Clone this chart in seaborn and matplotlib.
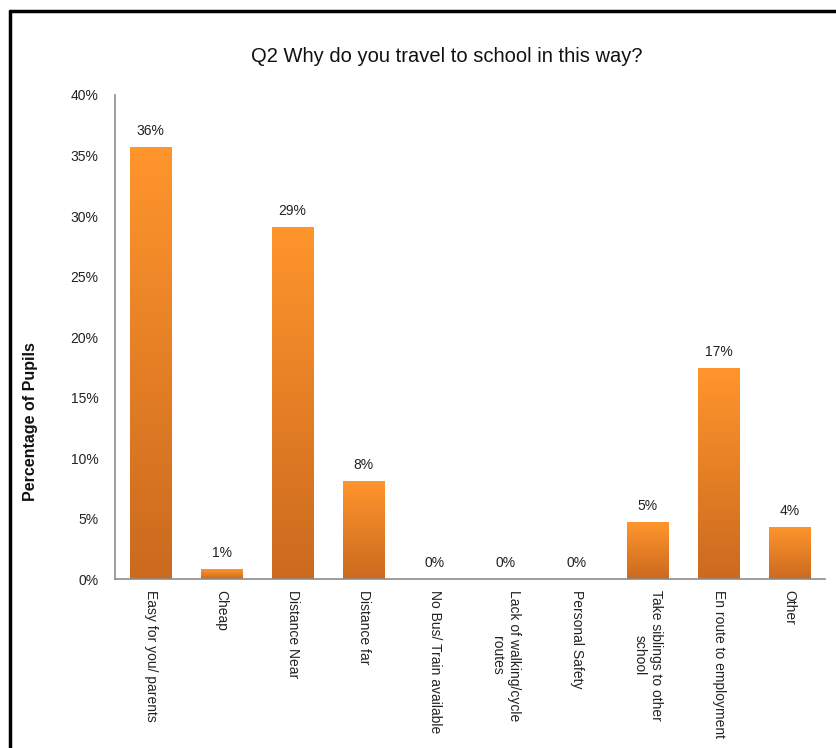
import numpy as np
import pandas as pd
import matplotlib
matplotlib.use("Agg")
import matplotlib.pyplot as plt
from matplotlib.colors import LinearSegmentedColormap
from matplotlib.lines import Line2D
import seaborn as sns

# Survey answers: reasons for the chosen way of travelling to school
categories = [
    "Easy for you/ parents",
    "Cheap",
    "Distance Near",
    "Distance far",
    "No Bus/ Train available",
    "Lack of walking/cycle\nroutes",
    "Personal Safety",
    "Take siblings to other\nschool",
    "En route to employment",
    "Other",
]
percent = [35.7, 0.8, 29.1, 8.1, 0.0, 0.0, 0.0, 4.7, 17.4, 4.3]
yticks = [0, 5, 10, 15, 20, 25, 30, 35, 40]

sns.set_theme(style="white")
plt.rcParams["font.family"] = ["Liberation Sans Narrow", "Liberation Sans", "DejaVu Sans"]

df = pd.DataFrame({"reason": categories, "pct": percent})

fig = plt.figure(figsize=(8.37, 7.48), dpi=100)
ax = fig.add_axes([0.1374, 0.2259, 0.8483, 0.6471])

sns.barplot(data=df, x="reason", y="pct", color="#F28C28", width=0.58,
            saturation=1, ax=ax)

# orange vertical gradient inside each bar
cmap = LinearSegmentedColormap.from_list("orange_grad", ["#CB6A1F", "#FF952C"])
grad = np.linspace(0, 1, 256).reshape(-1, 1)
for patch in ax.patches:
    x0, y0 = patch.get_x(), patch.get_y()
    w, h = patch.get_width(), patch.get_height()
    if h <= 0:
        continue
    im = ax.imshow(grad, cmap=cmap, origin="lower", aspect="auto",
                   extent=[x0, x0 + w, y0, y0 + h], zorder=patch.get_zorder() + 0.1)
    im.set_clip_path(patch)

ax.set_xlim(-0.5, len(categories) - 0.5)
ax.set_ylim(0, 40)
ax.set_yticks(yticks)
ax.set_yticklabels([f"{t}%" for t in yticks])

for i, v in enumerate(percent):
    ax.text(i, v + 0.75, f"{round(v):.0f}%", ha="center", va="bottom",
            fontsize=10, color="#222222")

ax.set_xticks(range(len(categories)))
ax.set_xticklabels(categories, rotation=270, ha="center", va="top",
                   fontsize=10, color="#222222", multialignment="center")
ax.tick_params(axis="y", labelsize=10, labelcolor="#222222", length=0, pad=12)
ax.tick_params(axis="x", length=0, pad=8)

ax.set_xlabel("")
ax.set_ylabel("")
for side in ("top", "right"):
    ax.spines[side].set_visible(False)
for side in ("left", "bottom"):
    ax.spines[side].set_color("#8c8c8c")
    ax.spines[side].set_linewidth(1.2)

fig.text(0.534, 0.924, "Q2 Why do you travel to school in this way?",
         ha="center", va="center", fontsize=14.5, color="#111111")
fig.text(0.037, 0.436, "Percentage of Pupils", rotation=90, ha="center",
         va="center", fontsize=11.5, fontweight="bold", color="#111111")

# outer frame lines along the top and left edges
fig.add_artist(Line2D([0.0125, 1.0], [0.9855, 0.9855], color="black", lw=2.5,
                      transform=fig.transFigure))
fig.add_artist(Line2D([0.0125, 0.0125], [0.0, 0.9855], color="black", lw=2.5,
                      transform=fig.transFigure))

fig.savefig("out.png", dpi=100, facecolor="white")
